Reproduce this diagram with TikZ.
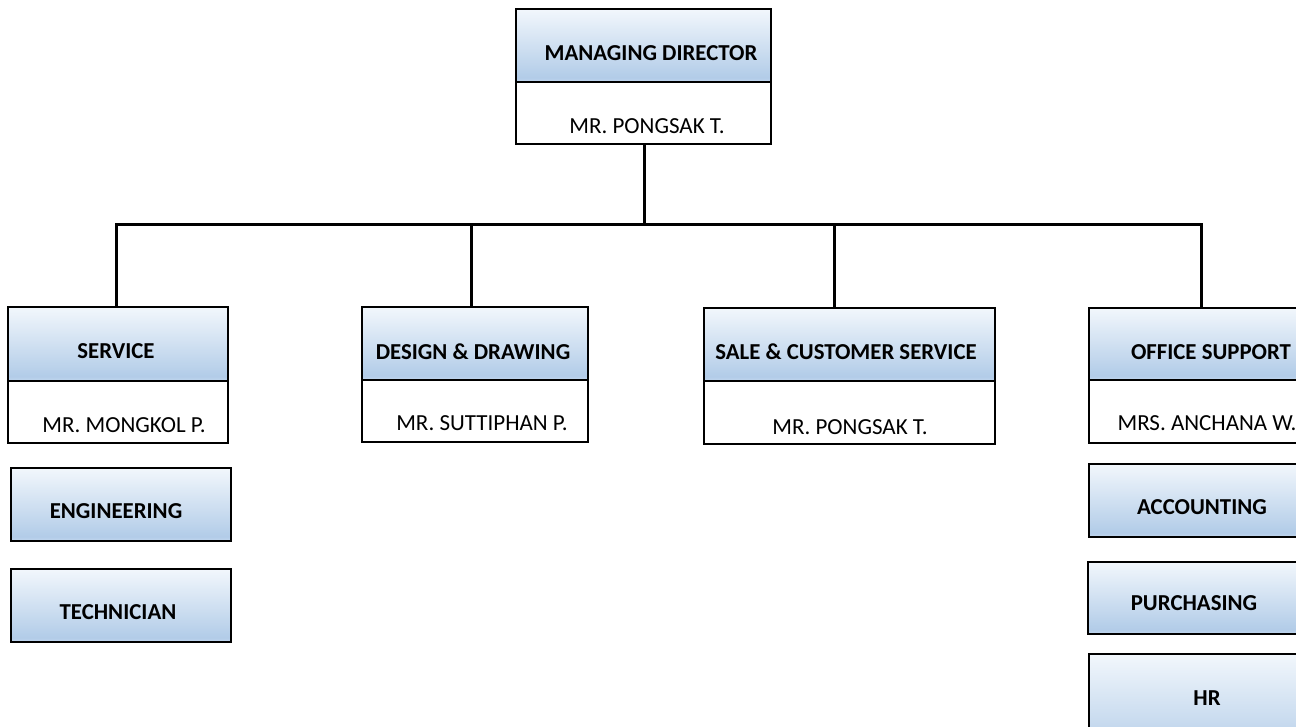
\documentclass[tikz,border=0pt]{standalone}
\usepackage{fontspec}
\setmainfont{Carlito}
\definecolor{hdtop}{HTML}{F2F7FC}
\definecolor{hdbot}{HTML}{B2CCE8}
\definecolor{hdedge}{HTML}{C3D7EE}
\pgfdeclareverticalshading{hdrshade}{100bp}{color(0bp)=(hdedge); color(25bp)=(hdedge); color(28bp)=(hdbot); color(75bp)=(hdtop); color(100bp)=(hdtop)}
\tikzset{
  boxbase/.style={draw=black, line width=2.3pt, inner sep=0pt, outer sep=0pt, anchor=north west},
  hdbox/.style={boxbase, shading=hdrshade},
  nmbox/.style={boxbase, fill=white},
  hdtext/.style={font=\fontsize{22.8}{26}\selectfont\bfseries, inner sep=0pt},
  nmtext/.style={font=\fontsize{23}{26}\selectfont, inner sep=0pt},
  conn/.style={line width=3pt, line join=miter},
}
\begin{document}
\begin{tikzpicture}[x=1pt,y=-1pt]
\useasboundingbox (0,0) rectangle (1296,726);
\clip (0,0) rectangle (1296,726);
\fill[white] (0,0) rectangle (1296,726);

% Managing director
\node[hdbox, minimum width=255pt, minimum height=73pt] (mdh) at (516,9) {};
\node[nmbox, minimum width=255pt, minimum height=62pt] (mdn) at (516,82) {};
\node[hdtext] (mdht) at (651,53) {MANAGING DIRECTOR};
\node[nmtext] (mdnt) at (647,126) {MR. PONGSAK T.};

% Service
\node[hdbox, minimum width=220pt, minimum height=74pt] (svh) at (8,307) {};
\node[nmbox, minimum width=220pt, minimum height=62pt] (svn) at (8,381) {};
\node[hdtext] (svht) at (116,351) {SERVICE};
\node[nmtext] (svnt) at (124,425) {MR. MONGKOL P.};
\node[hdbox, minimum width=220pt, minimum height=73pt] (eng) at (11,468) {};
\node[hdtext] (engt) at (116,511) {ENGINEERING};
\node[hdbox, minimum width=220pt, minimum height=73pt] (tec) at (11,569) {};
\node[hdtext] (tect) at (118,612) {TECHNICIAN};

% Design
\node[hdbox, minimum width=226pt, minimum height=73pt] (deh) at (362,307) {};
\node[nmbox, minimum width=226pt, minimum height=62pt] (den) at (362,380) {};
\node[hdtext] (deht) at (473,352) {DESIGN \& DRAWING};
\node[nmtext] (dent) at (482,423) {MR. SUTTIPHAN P.};

% Sale
\node[hdbox, minimum width=291pt, minimum height=73pt] (sah) at (704,308) {};
\node[nmbox, minimum width=291pt, minimum height=63pt] (san) at (704,381) {};
\node[hdtext] (saht) at (846,352) {SALE \& CUSTOMER SERVICE};
\node[nmtext] (sant) at (850,427) {MR. PONGSAK T.};

% Office support
\node[hdbox, minimum width=226pt, minimum height=72pt] (ofh) at (1089,308) {};
\node[nmbox, minimum width=226pt, minimum height=63pt] (ofn) at (1089,380) {};
\node[hdtext] (ofht) at (1211,352) {OFFICE SUPPORT};
\node[nmtext] (ofnt) at (1207,423) {MRS. ANCHANA W.};
\node[hdbox, minimum width=226pt, minimum height=73pt] (acc) at (1089,464) {};
\node[hdtext] (acct) at (1202,507) {ACCOUNTING};
\node[hdbox, minimum width=227pt, minimum height=72pt] (pur) at (1088,562) {};
\node[hdtext] (purt) at (1194,603) {PURCHASING};
\node[hdbox, minimum width=226pt, minimum height=110pt] (hr) at (1089,654) {};
\node[hdtext] (hrt) at (1207,698) {HR};

% connectors
\coordinate (b0) at (644,224);
\coordinate (b1) at (116,224);
\coordinate (b2) at (471,224);
\coordinate (b3) at (834,224);
\coordinate (b4) at (1201,224);
\draw[conn] (mdn.south -| b0) -- (b0);
\draw[conn] (b1 |- svh.north) -- (b1) -- (b4) -- (b4 |- ofh.north);
\draw[conn] (b2) -- (b2 |- deh.north);
\draw[conn] (b3) -- (b3 |- sah.north);
\end{tikzpicture}
\end{document}
